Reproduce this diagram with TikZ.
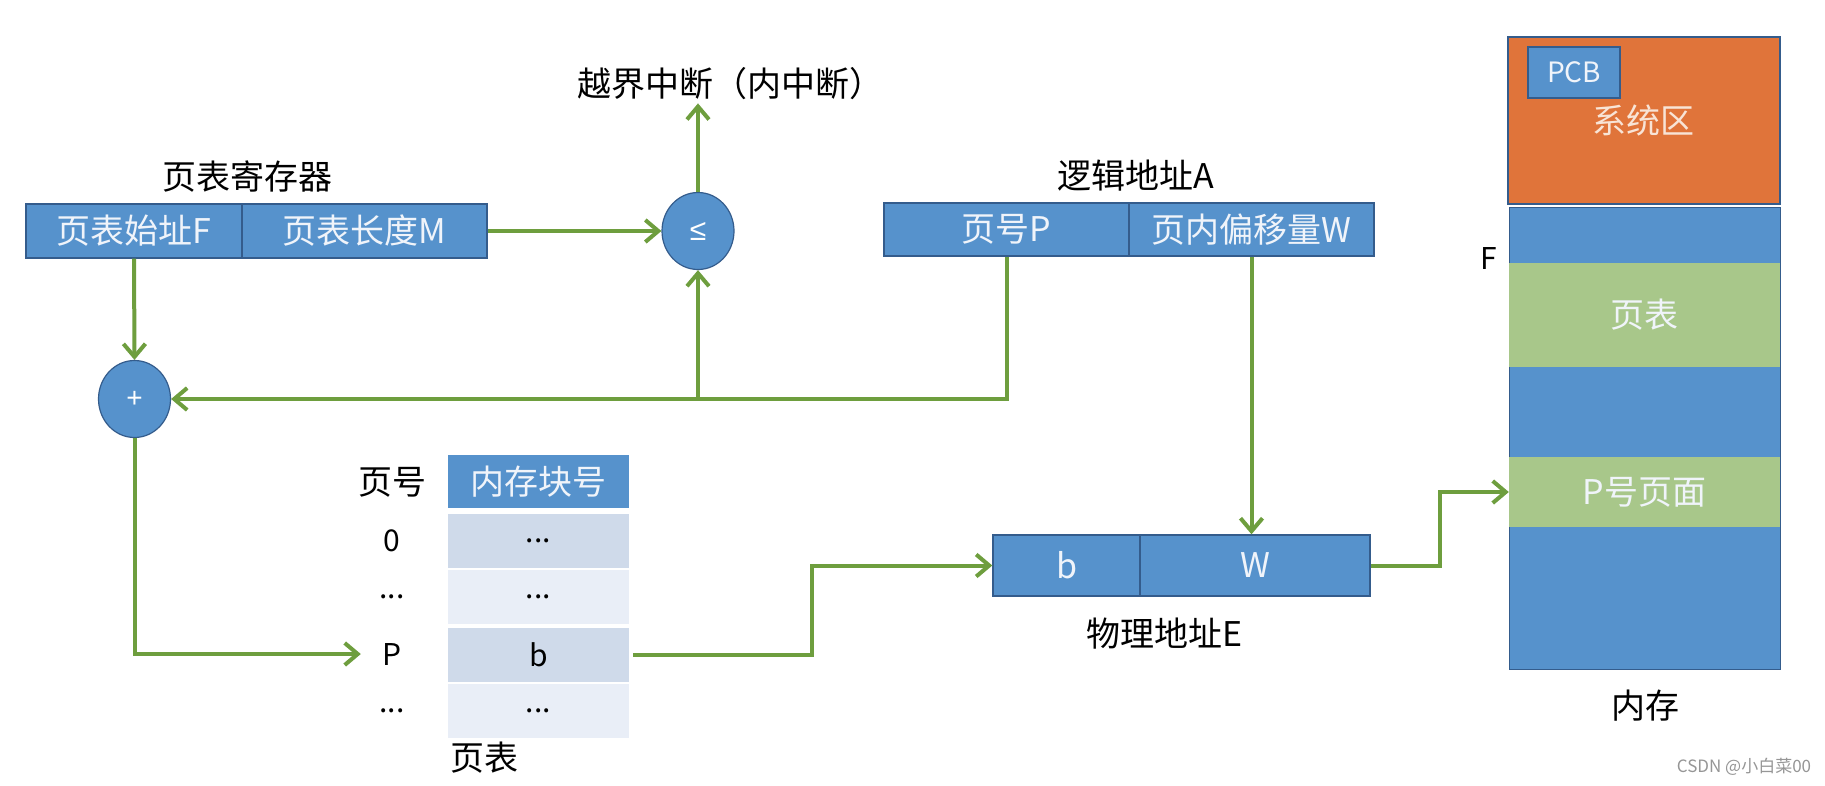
\documentclass[tikz,border=0pt]{standalone}
\usepackage{fontspec}
\setmainfont{Noto Sans CJK SC}
\newfontfamily\opfont{Liberation Sans}
\usetikzlibrary{arrows.meta,shapes.geometric}
\definecolor{boxblue}{RGB}{86,146,204}
\definecolor{boxedge}{RGB}{52,92,140}
\definecolor{sysorange}{RGB}{224,116,58}
\definecolor{pagegreen}{RGB}{168,199,138}
\definecolor{arrowgreen}{RGB}{110,158,62}
\definecolor{rowdark}{RGB}{207,218,234}
\definecolor{rowlight}{RGB}{233,238,247}
\definecolor{softwhite}{RGB}{240,244,250}
\definecolor{wmgray}{RGB}{150,150,150}
\begin{document}
\begin{tikzpicture}[x=1pt,y=-1pt,
  big/.style={font=\fontsize{34}{40}\selectfont},
  cell/.style={draw=boxedge, line width=1.4pt, fill=boxblue, text=softwhite, inner sep=0pt, big},
  op/.style={ellipse, draw=boxedge, line width=1.2pt, fill=boxblue, text=white, inner sep=0pt,
    minimum width=72pt, minimum height=77pt, font=\opfont\fontsize{30}{34}\selectfont},
  lbl/.style={text=black, inner sep=3pt, big},
  tlbl/.style={text=black, inner sep=0pt, minimum width=62pt, font=\fontsize{30}{36}\selectfont},
  trow/.style={inner sep=0pt, minimum width=181pt, minimum height=54pt, text=black, font=\fontsize{30}{36}\selectfont},
  band/.style={inner sep=0pt, minimum width=271pt, text=softwhite, big},
  arr/.style={draw=arrowgreen, line width=4pt, -{Straight Barb[length=13pt,width=22pt]}},
  ]
\path[use as bounding box, fill=white] (0,0) rectangle (1825,785);

% page table register
\node[lbl] (regtitle) at (247,177) {页表寄存器};
\node[cell, minimum width=216pt, minimum height=54pt] (regF) at (134,231) {页表始址F};
\node[cell, minimum width=245pt, minimum height=54pt] (regM) at (364.5,231) {页表长度M};

% comparator and interrupt
\node[op] (le) at (698,231) {≤};
\node[lbl] (intr) at (730,84) {越界中断（内中断）};
\node[op, font=\opfont\fontsize{28}{32}\selectfont] (plus) at (134.5,399) {+};

% logical address
\node[lbl] (logtitle) at (1136,176) {逻辑地址A};
\node[cell, minimum width=245pt, minimum height=53pt] (logP) at (1006.5,229.5) {页号P};
\node[cell, minimum width=245pt, minimum height=53pt] (logW) at (1251.5,229.5) {页内偏移量W};

% page table
\node[tlbl, font=\fontsize{34}{40}\selectfont] (hdrP) at (392,482) {页号};
\node[trow, fill=boxblue, text=softwhite, minimum height=53pt, font=\fontsize{34}{40}\selectfont] (hdrB) at (538.5,481.5) {内存块号};
\node[trow, fill=rowdark] (row0) at (538.5,540.5) {...};
\node[trow, fill=rowlight] (row1) at (538.5,597) {...};
\node[trow, fill=rowdark] (rowP) at (538.5,654.5) {b};
\node[trow, fill=rowlight] (row3) at (538.5,711) {...};
\node[tlbl] (p0) at (392,541) {0};
\node[tlbl] (p1) at (392,597) {...};
\node[tlbl] (pP) at (392,654) {P};
\node[tlbl] (p3) at (392,711) {...};
\node[lbl] (pttitle) at (484,758) {页表};

% physical address
\node[cell, minimum width=147pt, minimum height=61pt] (physb) at (1066.5,565.5) {b};
\node[cell, minimum width=230pt, minimum height=61pt] (physW) at (1255,565.5) {W};
\node[lbl] (phystitle) at (1164,634) {物理地址E};

% memory
\node[draw=boxedge, line width=1.2pt, fill=sysorange, inner sep=0pt, minimum width=272pt, minimum height=167pt] (sys) at (1644,120.5) {};
\node[cell, line width=1.2pt, minimum width=92pt, minimum height=51pt, font=\fontsize{28}{32}\selectfont] (pcb) at (1574,72.5) {PCB};
\node[text={rgb,255:red,248;green,228;blue,214}, big, inner sep=0pt] (systext) at (1643,120) {系统区};
\node[draw=boxedge, line width=1pt, fill=boxblue, inner sep=0pt, minimum width=271pt, minimum height=462pt] (mem) at (1644.5,438) {};
\node[band, fill=pagegreen, minimum height=104pt] (ptband) at (1644.5,315) {页表};
\node[band, fill=pagegreen, minimum height=70pt] (pband) at (1644.5,492) {P号页面};
\node[text=black, inner sep=0pt, font=\fontsize{30}{36}\selectfont] (Flbl) at (1489,258) {F};
\node[lbl] (memtitle) at (1645,706) {内存};

\node[text=wmgray, inner sep=0pt, font=\fontsize{17}{20}\selectfont] (wm) at (1744,767) {CSDN @小白菜00};

% connectors
\coordinate (m1) at (812,600);
\coordinate (m2) at (1440,530);
\draw[arr] (regF.south) -- (plus.north);
\draw[arr] (regM.east) -- (le.west);
\draw[arr] (le.north) -- (le.north |- intr.south);
\draw[arr] (logP.south) |- (plus.east);
\draw[arr] (le.south |- plus.east) -- (le.south);
\draw[arr] (plus.south) |- (pP.west);
\draw[arr, shorten <=4pt] (rowP.east) -| (m1) |- (physb.west);
\draw[arr] (logW.south) -- (logW.south |- physW.north);
\draw[arr] (physW.east) -| (m2) |- (pband.west);
\end{tikzpicture}
\end{document}
